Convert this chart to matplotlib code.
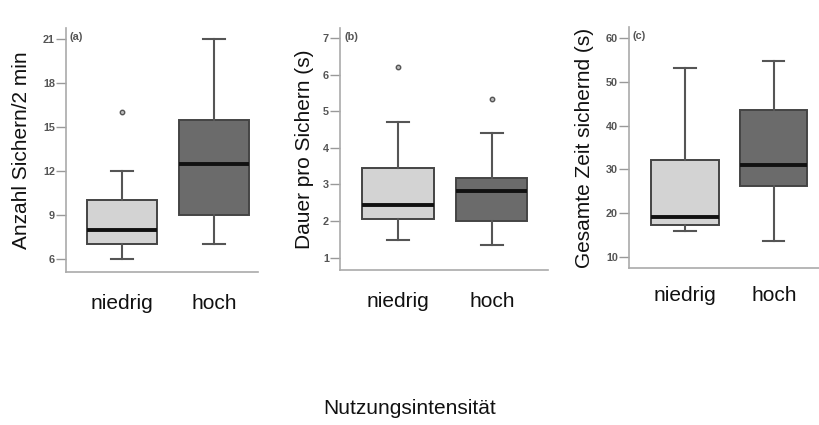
import matplotlib
matplotlib.use("Agg")
import matplotlib.pyplot as plt

plt.rcParams['font.family'] = ['Liberation Sans', 'DejaVu Sans']

groups = ["niedrig", "hoch"]
panel_tags = ["(a)", "(b)", "(c)"]
ylabels = ["Anzahl Sichern/2 min", "Dauer pro Sichern (s)", "Gesamte Zeit sichernd (s)"]
xlabel = "Nutzungsintensität"

# box statistics per panel: [niedrig, hoch]
whislo = [[6, 7], [1.48, 1.35], [15.8, 13.5]]
q1 = [[7, 9], [2.05, 2.0], [17.3, 26.2]]
med = [[8, 12.5], [2.45, 2.82], [19.2, 31.1]]
q3 = [[10, 15.5], [3.45, 3.18], [32.2, 43.5]]
whishi = [[12, 21], [4.72, 4.42], [53.2, 54.8]]
fliers = [[[16], []], [[6.22], [5.35]], [[], []]]

yticks = [[6, 9, 12, 15, 18, 21], [1, 2, 3, 4, 5, 6, 7], [10, 20, 30, 40, 50, 60]]
ylims = [(5.11, 21.75), (0.66, 7.28), (7.41, 62.6)]
xlims = [(0.391, 2.478), (0.38, 2.60), (0.367, 2.51)]
# axes rect in pixels: left, right, top, bottom
rects_px = [(66, 258, 28, 272), (340, 548, 28, 270), (629, 819, 27, 268)]
ylabel_x = [22, 305, 585]
xtick_pad = [16, 16, 13]

W, H = 819, 425
fig = plt.figure(figsize=(W / 100, H / 100), dpi=100)

box_colors = ["#d3d3d3", "#6b6b6b"]

for i in range(3):
    l, r, t, b = rects_px[i]
    ax = fig.add_axes([l / W, 1 - b / H, (r - l) / W, (b - t) / H])
    stats = []
    for j in range(2):
        stats.append(dict(whislo=whislo[i][j], q1=q1[i][j], med=med[i][j],
                          q3=q3[i][j], whishi=whishi[i][j], fliers=fliers[i][j],
                          label=groups[j]))
    bp = ax.bxp(stats, positions=[1, 2], widths=0.76, patch_artist=True,
                showfliers=True,
                boxprops=dict(edgecolor="#444444", linewidth=1.4),
                whiskerprops=dict(color="#555555", linewidth=1.5),
                capprops=dict(color="#555555", linewidth=1.5),
                medianprops=dict(color="#111111", linewidth=2.8),
                flierprops=dict(marker="o", markersize=3.2, markerfacecolor="#bbbbbb",
                                markeredgecolor="#555555", markeredgewidth=1.0),
                capwidths=0.24)
    for patch, c in zip(bp["boxes"], box_colors):
        patch.set_facecolor(c)
    ax.set_xlim(*xlims[i])
    ax.set_ylim(*ylims[i])
    ax.set_yticks(yticks[i])
    ax.set_yticklabels([str(v) for v in yticks[i]], fontsize=7.8, color="#555555",
                       fontweight="bold")
    ax.set_xticks([1, 2])
    ax.set_xticklabels(groups, fontsize=15, color="#111111")
    ax.tick_params(axis="x", length=0, pad=xtick_pad[i])
    ax.tick_params(axis="y", length=7, width=1.0, color="#999999", pad=1)
    for s in ["top", "right"]:
        ax.spines[s].set_visible(False)
    for s in ["left", "bottom"]:
        ax.spines[s].set_color("#aaaaaa")
        ax.spines[s].set_linewidth(1.2)
    ax.text(0.02, 0.985, panel_tags[i], transform=ax.transAxes, fontsize=7.8,
            color="#555555", fontweight="bold", va="top", ha="left")
    yc = 1 - ((t + b) / 2) / H
    fig.text(ylabel_x[i] / W, yc, ylabels[i], rotation=90, fontsize=15,
             ha="center", va="center", color="#111111")

fig.text(410 / W, 1 - 408 / H, xlabel, fontsize=15, ha="center", va="center",
         color="#111111")

fig.savefig("out.png", dpi=100)
